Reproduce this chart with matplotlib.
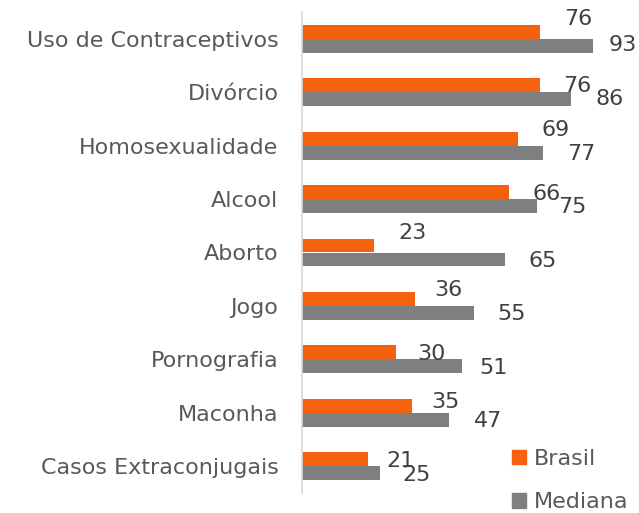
import matplotlib
matplotlib.use("Agg")
import matplotlib.pyplot as plt
from matplotlib.patches import Patch

categories = ["Uso de Contraceptivos", "Divórcio", "Homosexualidade", "Alcool",
              "Aborto", "Jogo", "Pornografia", "Maconha", "Casos Extraconjugais"]
brasil = [76, 76, 69, 66, 23, 36, 30, 35, 21]
mediana = [93, 86, 77, 75, 65, 55, 51, 47, 25]

# label offsets in pixels (dx from bar end, dy from bar centre; positive dy = up)
brasil_dx = [38, 37, 38, 38, 38.5, 34, 36, 33.5, 33]
brasil_dy = [13, -1, 8.5, -2, 12.5, 8.7, -1.4, 4, -1.6]
mediana_dx = [29.5, 38, 38, 36, 37.5, 37, 32, 38.5, 36]
mediana_dy = [0.7, 0.6, -1.5, -0.5, -1.5, -1, -1.4, -1.5, -1.6]

ORANGE = "#F4620F"
GRAY = "#7F7F7F"
FONT = ["DejaVu Sans"]

W, H = 639, 513
fig = plt.figure(figsize=(W / 100, H / 100), dpi=100)
ax_left, ax_top, ax_bottom = 302, 12, 493
ax_right = 302 + 313
ax = fig.add_axes([ax_left / W, 1 - ax_bottom / H, (ax_right - ax_left) / W, (ax_bottom - ax_top) / H])

n = len(categories)
ys = list(range(n))
bh = 0.26
ax.barh([y - bh / 2 for y in ys], brasil, height=bh, color=ORANGE, label="Brasil")
ax.barh([y + bh / 2 for y in ys], mediana, height=bh, color=GRAY, label="Mediana")
ax.set_xlim(0, 100)
ax.set_ylim(n - 0.5, -0.5)

ax.set_yticks(ys)
ax.set_yticklabels(categories, fontsize=16, color="#595959", family=FONT)
ax.tick_params(axis="y", length=0, pad=17)
ax.set_xticks([])
for s in ["top", "right", "bottom"]:
    ax.spines[s].set_visible(False)
ax.spines["left"].set_color("#D9D9D9")
ax.spines["left"].set_linewidth(1.2)

px_per_unit = (ax_right - ax_left) / 100
px_per_row = (ax_bottom - ax_top) / n
for i in range(n):
    yb = i - bh / 2
    ym = i + bh / 2
    ax.text(brasil[i] + brasil_dx[i] / px_per_unit, yb - brasil_dy[i] / px_per_row, str(brasil[i]),
            ha="center", va="center", fontsize=16, color="#404040", family=FONT, clip_on=False)
    ax.text(mediana[i] + mediana_dx[i] / px_per_unit, ym - mediana_dy[i] / px_per_row, str(mediana[i]),
            ha="center", va="center", fontsize=16, color="#404040", family=FONT, clip_on=False)

handles = [Patch(color=ORANGE, label="Brasil"), Patch(color=GRAY, label="Mediana")]
leg = fig.legend(handles=handles, loc="upper left", bbox_to_anchor=(492 / W, 1 - 429 / H),
                 frameon=False, prop={"family": FONT, "size": 16}, labelcolor="#595959",
                 handlelength=0.62, handleheight=0.62, handletextpad=0.35, labelspacing=1.05)

fig.savefig("out.png", dpi=100)
